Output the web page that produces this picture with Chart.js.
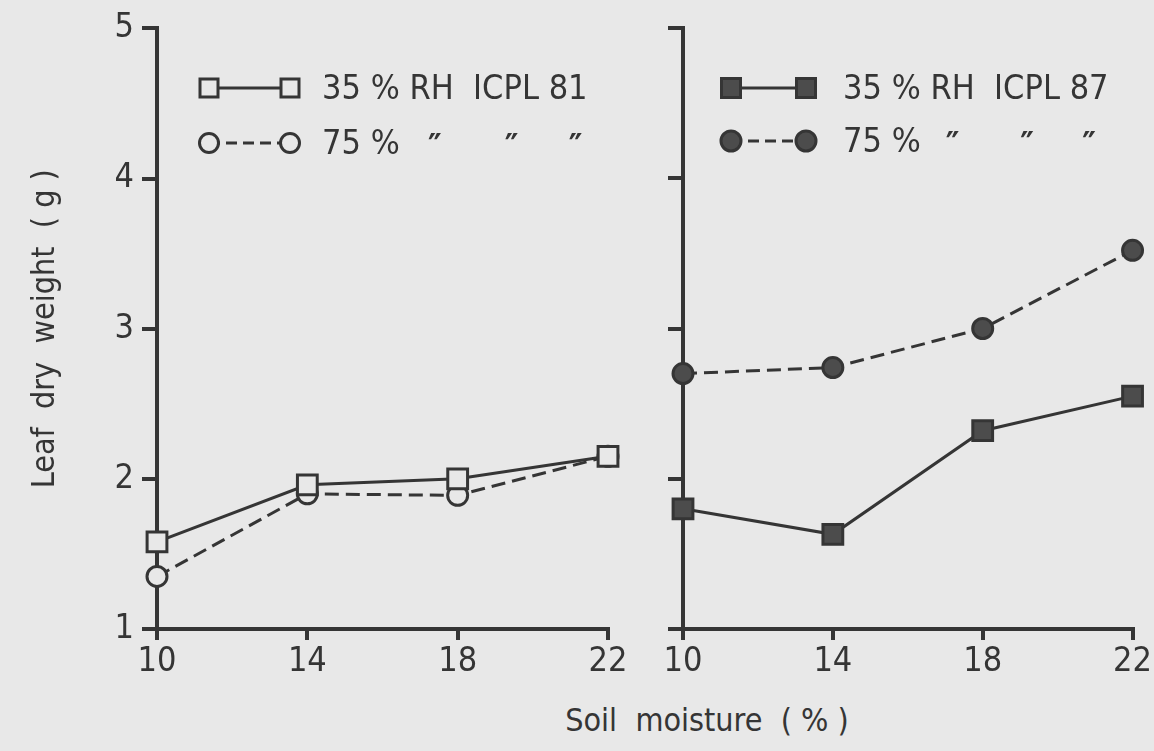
<!DOCTYPE html>
<html>
<head>
<meta charset="utf-8">
<script src="https://cdn.jsdelivr.net/npm/chart.js@4.4.1/dist/chart.umd.min.js"></script>
<style>
  html, body { margin: 0; padding: 0; background: #e8e8e8; width: 1154px; height: 751px; overflow: hidden; }
  #wrap { position: relative; width: 1154px; height: 751px; }
  canvas { position: absolute; top: 0; }
  #c1 { left: 0; }
  #c2 { left: 640px; }
  #xtitle { position: absolute; left: 457px; width: 500px; top: 701px; text-align: center;
            font-family: "DejaVu Sans Condensed", "Liberation Sans Narrow", Roboto, sans-serif;
            font-size: 32px; color: #353535; white-space: pre; }
</style>
</head>
<body>
<div id="wrap">
  <canvas id="c1" width="640" height="700"></canvas>
  <canvas id="c2" width="514" height="700"></canvas>
  <div id="xtitle">Soil  moisture  ( % )</div>
</div>
<script>
// ---- data ----
const soilMoisture = [10, 14, 18, 22];
const icpl81Rh35 = [1.58, 1.96, 2.00, 2.15];
const icpl81Rh75 = [1.35, 1.90, 1.89, 2.15];
const icpl87Rh35 = [1.80, 1.63, 2.32, 2.55];
const icpl87Rh75 = [2.70, 2.74, 3.00, 3.52];
const xTickValues = [10, 14, 18, 22];
const yTickValues = [1, 2, 3, 4, 5];
const legend81 = ['35 % RH  ICPL 81', '75 %'];
const legend87 = ['35 % RH  ICPL 87', '75 %'];
const dittoWords = ['RH', 'ICPL', 'LAST'];
const yTitle = 'Leaf  dry  weight  ( g )';

const INK = '#353535';
const BG = '#e8e8e8';
const FONT = '"DejaVu Sans Condensed", "Liberation Sans Narrow", Roboto, sans-serif';

function pts(vals) { return soilMoisture.map((x, i) => ({ x: x, y: vals[i] })); }

function xScale() {
  return {
    type: 'linear', min: 10, max: 22,
    afterBuildTicks: s => { s.ticks = xTickValues.map(v => ({ value: v })); },
    border: { display: true, color: INK, width: 4 },
    grid: { display: true, drawOnChartArea: false, drawTicks: true, tickLength: 11, color: INK, lineWidth: 4 },
    ticks: { color: INK, font: { family: FONT, size: 34 }, padding: 2, maxRotation: 0 },
    afterFit: s => { s.height = 71; }
  };
}
function yScale(showLabels, width) {
  return {
    type: 'linear', min: 1, max: 5,
    afterBuildTicks: s => { s.ticks = yTickValues.map(v => ({ value: v })); },
    border: { display: true, color: INK, width: 4 },
    grid: { display: true, drawOnChartArea: false, drawTicks: true, tickLength: 15, color: INK, lineWidth: 4 },
    ticks: { display: showLabels, color: INK, font: { family: FONT, size: 34 }, padding: 8 },
    title: showLabels ? { display: true, text: yTitle, color: INK, font: { family: FONT, size: 32 }, padding: { top: 26, bottom: 0 } } : { display: false },
    afterFit: s => { s.width = width; }
  };
}

const panelLegend = {
  id: 'panelLegend',
  afterDraw(chart, args, o) {
    const ctx = chart.ctx;
    ctx.save();
    ctx.font = '34px ' + FONT;
    ctx.fillStyle = INK;
    ctx.textBaseline = 'middle';
    ctx.textAlign = 'left';
    [o.row1, o.row2].forEach(r => {
      const y = r.y;
      ctx.save();
      ctx.strokeStyle = INK; ctx.lineWidth = 3;
      ctx.setLineDash(r.dash);
      ctx.beginPath(); ctx.moveTo(o.x1, y); ctx.lineTo(o.x2, y); ctx.stroke();
      ctx.restore();
      [o.x1, o.x2].forEach(x => {
        ctx.save();
        ctx.lineWidth = 3; ctx.strokeStyle = INK; ctx.fillStyle = r.fill;
        ctx.beginPath();
        if (r.shape === 'rect') { const h = r.size / 2; ctx.rect(x - h, y - h, r.size, r.size); }
        else { ctx.arc(x, y, r.size / 2, 0, Math.PI * 2); }
        ctx.fill(); ctx.stroke();
        ctx.restore();
      });
    });
    ctx.fillText(o.labels[0], o.textX, o.row1.y + 2);
    ctx.fillText(o.labels[1], o.textX, o.row2.y + 2);
    // ditto marks centred under the words of the first row
    const s = o.labels[0];
    const w0 = ctx.measureText(s).width;
    const centers = dittoWords.map(w => {
      const word = w === 'LAST' ? s.slice(-2) : w;
      const idx = s.lastIndexOf(word);
      const start = ctx.measureText(s.slice(0, idx)).width;
      return o.textX + (start + ctx.measureText(word).width / 2) * o.stretch;
    });
    ctx.textAlign = 'center';
    ctx.font = 'bold 34px ' + FONT;
    centers.forEach(cx => ctx.fillText('\u2033', cx, o.row2.y + 6));
    ctx.restore();
  }
};

function makeChart(id, d35, d75, filled, legendLabels, yWidth, showYLabels, rightPad, legendPos) {
  const fill = filled ? '#4c4c4c' : BG;
  return new Chart(document.getElementById(id), {
    type: 'line',
    data: {
      datasets: [
        { label: legendLabels[0], data: pts(d35), borderColor: INK, borderWidth: 3, showLine: true,
          pointStyle: 'rect', pointRadius: 14, pointBorderWidth: 3, pointBorderColor: INK,
          pointBackgroundColor: fill, tension: 0, clip: false, order: 0 },
        { label: legendLabels[1], data: pts(d75), borderColor: INK, borderWidth: 3, borderDash: [14, 7], showLine: true,
          pointStyle: 'circle', pointRadius: 10, pointBorderWidth: 3, pointBorderColor: INK,
          pointBackgroundColor: fill, tension: 0, clip: false, order: 1 }
      ]
    },
    options: {
      responsive: false, animation: false, devicePixelRatio: 1,
      layout: { padding: { left: 0, right: rightPad, top: 28, bottom: 0 } },
      plugins: {
        legend: { display: false }, tooltip: { enabled: false },
        panelLegend: Object.assign({ labels: legendLabels }, legendPos)
      },
      scales: { x: xScale(), y: yScale(showYLabels, yWidth) }
    },
    plugins: [panelLegend]
  });
}

makeChart('c1', icpl81Rh35, icpl81Rh75, false, legend81, 157, true, 32,
  { x1: 209, x2: 290, textX: 322, stretch: 1.03,
    row1: { y: 88, dash: [], shape: 'rect', size: 18, fill: BG },
    row2: { y: 143, dash: [11, 6], shape: 'circle', size: 19, fill: BG } });
makeChart('c2', icpl87Rh35, icpl87Rh75, true, legend87, 43, false, 19,
  { x1: 91, x2: 166, textX: 203, stretch: 1.0,
    row1: { y: 88, dash: [], shape: 'rect', size: 19, fill: '#4c4c4c' },
    row2: { y: 141, dash: [11, 6], shape: 'circle', size: 20, fill: '#4c4c4c' } });
</script>
</body>
</html>
